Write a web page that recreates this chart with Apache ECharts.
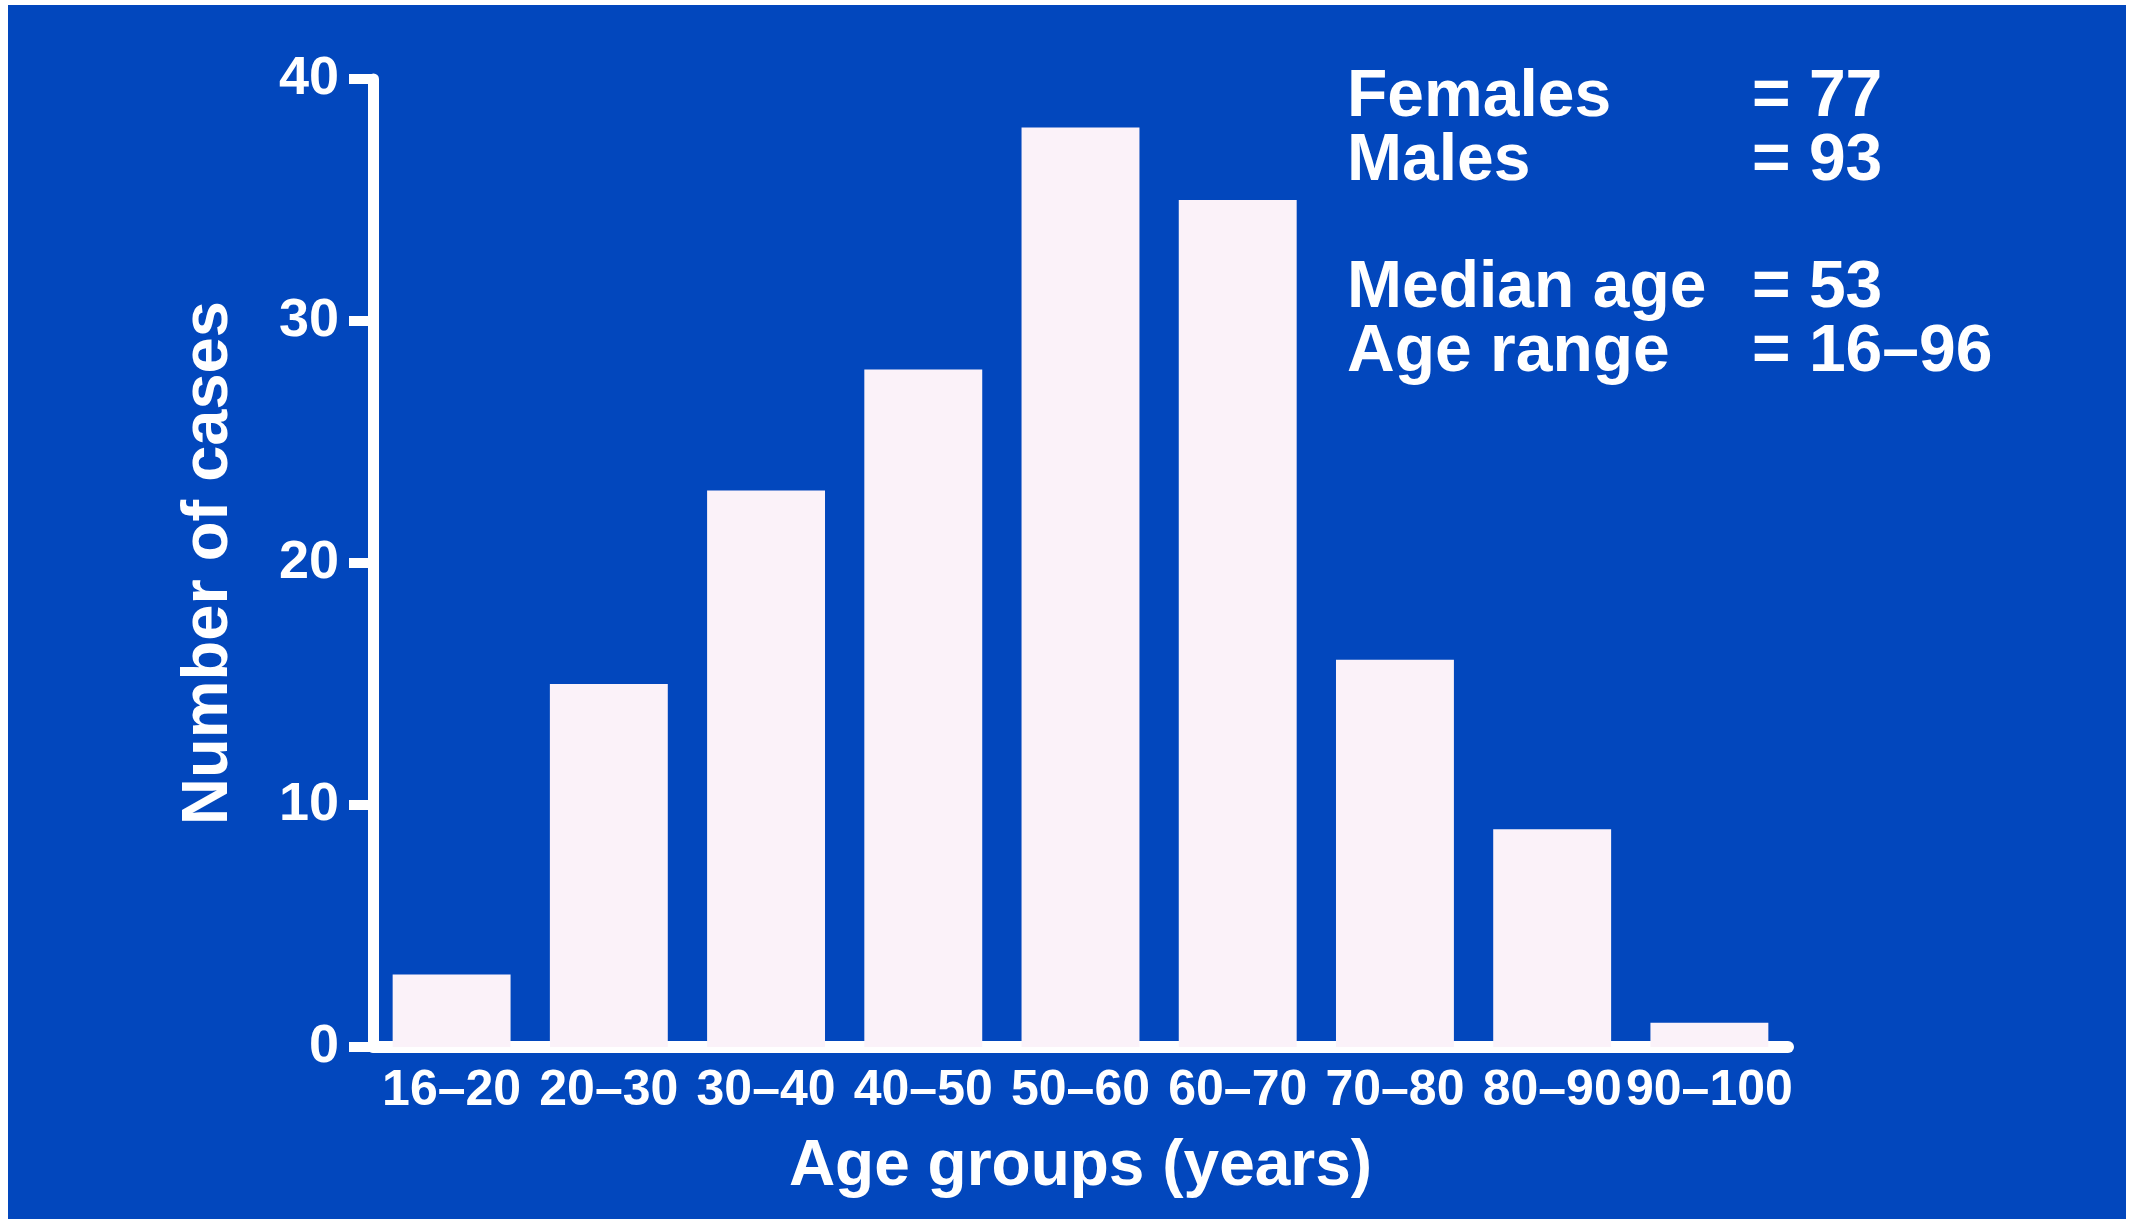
<!DOCTYPE html>
<html lang="en">
<head>
    <meta charset="UTF-8">
    <title>Age groups (years)</title>
    <script src="https://cdn.jsdelivr.net/npm/echarts@6.0.0/dist/echarts.min.js"></script>
    <style>
        html, body {
            margin: 0;
            padding: 0;
            background: #ffffff;
        }

        #chart {
            width: 2134px;
            height: 1219px;
        }
    </style>
</head>
<body>
    <div id="chart"></div>

<script>
// data
const ageGroups = ['16–20', '20–30', '30–40', '40–50', '50–60', '60–70', '70–80', '80–90', '90–100'];
const caseCounts = [3, 15, 23, 28, 38, 35, 16, 9, 1];
const yTicks = { min: 0, max: 40, step: 10 };

// summary block, top right
const summaryLabels = ['Females', 'Males', 'Median age', 'Age range'];
const summaryValues = ['= 77', '= 93', '= 53', '= 16–96'];

const FONT = '"Liberation Sans", Arial, sans-serif';
const BLUE = '#0247bd';
const WHITE = '#ffffff';
const BAR = '#fbf2f9';

const chart = echarts.init(document.getElementById('chart'));

// text rows; small extra gap before the second pair
const rowY = [95, 159, 286, 350];
const summaryGraphics = [];
summaryLabels.forEach((label, i) => {
    summaryGraphics.push({
        type: 'text', left: 1347, top: rowY[i] - 30,
        style: { text: label, fill: WHITE, font: 'bold 66px ' + FONT }
    });
    summaryGraphics.push({
        type: 'text', left: 1752, top: rowY[i] - 30,
        style: { text: summaryValues[i], fill: WHITE, font: 'bold 66px ' + FONT }
    });
});

const option = {
    backgroundColor: BLUE,
    animation: false,
    grid: {
        left: 373,
        right: 346,
        top: 79,
        bottom: 172
    },
    xAxis: {
        type: 'category',
        data: ageGroups,
        name: 'Age groups (years)',
        nameLocation: 'middle',
        nameGap: 88,
        nameTextStyle: { color: WHITE, fontSize: 64, fontWeight: 'bold', fontFamily: FONT },
        axisLine: { lineStyle: { color: WHITE, width: 12 } },
        axisTick: { show: false },
        axisLabel: {
            color: WHITE,
            fontSize: 50,
            fontWeight: 'bold',
            fontFamily: FONT,
            interval: 0,
            margin: 19
        }
    },
    yAxis: {
        type: 'value',
        min: yTicks.min,
        max: yTicks.max,
        interval: yTicks.step,
        name: 'Number of cases',
        nameLocation: 'middle',
        nameGap: 131,
        nameTextStyle: { color: WHITE, fontSize: 65, fontWeight: 'bold', fontFamily: FONT },
        splitLine: { show: false },
        axisLine: { show: true, lineStyle: { color: WHITE, width: 11 } },
        axisTick: { show: true, length: 24, lineStyle: { color: WHITE, width: 10 } },
        axisLabel: {
            color: WHITE,
            fontSize: 54,
            fontWeight: 'bold',
            fontFamily: FONT,
            margin: 34
        }
    },
    series: [{
        type: 'bar',
        data: caseCounts,
        barWidth: '75%',
        itemStyle: { color: BAR },
        z: 1
    }],
    graphic: [
        // white slide-mount edges
        { type: 'rect', left: 0, top: 0, shape: { width: 2134, height: 5 }, style: { fill: WHITE } },
        { type: 'rect', left: 0, top: 0, shape: { width: 8, height: 1219 }, style: { fill: WHITE } },
        { type: 'rect', left: 2126, top: 0, shape: { width: 8, height: 1219 }, style: { fill: WHITE } }
    ].concat(summaryGraphics)
};

chart.setOption(option);
</script>
</body>
</html>
